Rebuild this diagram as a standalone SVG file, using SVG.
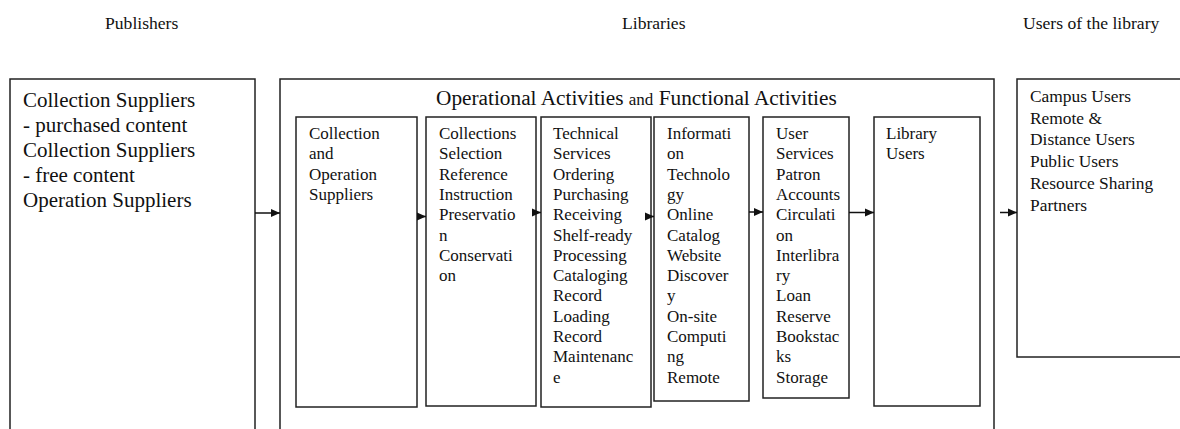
<svg xmlns="http://www.w3.org/2000/svg" width="1180" height="429" viewBox="0 0 1180 429">
<style>
.box{fill:#fff;stroke:#222;stroke-width:1.5}
.t{font-family:"Liberation Serif","Times New Roman","DejaVu Serif",serif;fill:#111}
.hd{font-size:17.6px}
.lg{font-size:21px}
.ti{font-size:21.3px}
.sm{font-size:17px}
.rt{font-size:17.4px}
.con{stroke:#111;stroke-width:1.5;fill:none;marker-end:url(#ah)}
</style>
<defs>
<marker id="ah" markerWidth="9" markerHeight="9" viewBox="0 0 9 9" refX="9" refY="4.5" orient="auto" markerUnits="userSpaceOnUse">
<path d="M0,0.5 L9,4.5 L0,8.5 Z" fill="#111"/>
</marker>
</defs>
<rect width="1180" height="429" fill="#fff"/>
<g id="headers" class="t hd" font-family="Liberation Serif, serif">
<text x="105" y="29">Publishers</text>
<text x="622" y="29">Libraries</text>
<text x="1023" y="29">Users of the library</text>
</g>
<g id="publishers">
<rect class="box" x="10" y="79" width="245" height="370"/>
<text class="t lg" font-family="Liberation Serif, serif">
<tspan x="23" y="107">Collection Suppliers</tspan>
<tspan x="23" y="132">- purchased content</tspan>
<tspan x="23" y="157">Collection Suppliers</tspan>
<tspan x="23" y="182">- free content</tspan>
<tspan x="23" y="207">Operation Suppliers</tspan>
</text>
</g>
<g id="libraries">
<rect class="box" x="280" y="79" width="714" height="370"/>
<text class="t ti" font-family="Liberation Serif, serif" x="436" y="105">Operational Activities <tspan class="sm">and</tspan> Functional Activities</text>
</g>
<g id="box1">
<rect class="box" x="296" y="117" width="121" height="290"/>
<text class="t sm" font-family="Liberation Serif, serif">
<tspan x="309" y="139">Collection</tspan>
<tspan x="309" y="159.3">and</tspan>
<tspan x="309" y="179.6">Operation</tspan>
<tspan x="309" y="199.9">Suppliers</tspan>
</text>
</g>
<g id="box2">
<rect class="box" x="426" y="117" width="110" height="289"/>
<text class="t sm" font-family="Liberation Serif, serif">
<tspan x="439" y="139">Collections</tspan>
<tspan x="439" y="159.3">Selection</tspan>
<tspan x="439" y="179.6">Reference</tspan>
<tspan x="439" y="199.9">Instruction</tspan>
<tspan x="439" y="220.2">Preservatio</tspan>
<tspan x="439" y="240.5">n</tspan>
<tspan x="439" y="260.8">Conservati</tspan>
<tspan x="439" y="281.1">on</tspan>
</text>
</g>
<g id="box3">
<rect class="box" x="541" y="117" width="110" height="290"/>
<text class="t sm" font-family="Liberation Serif, serif">
<tspan x="553" y="139">Technical</tspan>
<tspan x="553" y="159.3">Services</tspan>
<tspan x="553" y="179.6">Ordering</tspan>
<tspan x="553" y="199.9">Purchasing</tspan>
<tspan x="553" y="220.2">Receiving</tspan>
<tspan x="553" y="240.5">Shelf-ready</tspan>
<tspan x="553" y="260.8">Processing</tspan>
<tspan x="553" y="281.1">Cataloging</tspan>
<tspan x="553" y="301.4">Record</tspan>
<tspan x="553" y="321.7">Loading</tspan>
<tspan x="553" y="342">Record</tspan>
<tspan x="553" y="362.3">Maintenanc</tspan>
<tspan x="553" y="382.6">e</tspan>
</text>
</g>
<g id="box4">
<rect class="box" x="654" y="117" width="95" height="284"/>
<text class="t sm" font-family="Liberation Serif, serif">
<tspan x="667" y="139">Informati</tspan>
<tspan x="667" y="159.3">on</tspan>
<tspan x="667" y="179.6">Technolo</tspan>
<tspan x="667" y="199.9">gy</tspan>
<tspan x="667" y="220.2">Online</tspan>
<tspan x="667" y="240.5">Catalog</tspan>
<tspan x="667" y="260.8">Website</tspan>
<tspan x="667" y="281.1">Discover</tspan>
<tspan x="667" y="301.4">y</tspan>
<tspan x="667" y="321.7">On-site</tspan>
<tspan x="667" y="342">Computi</tspan>
<tspan x="667" y="362.3">ng</tspan>
<tspan x="667" y="382.6">Remote</tspan>
</text>
</g>
<g id="box5">
<rect class="box" x="763" y="117" width="86" height="281"/>
<text class="t sm" font-family="Liberation Serif, serif">
<tspan x="776" y="139">User</tspan>
<tspan x="776" y="159.3">Services</tspan>
<tspan x="776" y="179.6">Patron</tspan>
<tspan x="776" y="199.9">Accounts</tspan>
<tspan x="776" y="220.2">Circulati</tspan>
<tspan x="776" y="240.5">on</tspan>
<tspan x="776" y="260.8">Interlibra</tspan>
<tspan x="776" y="281.1">ry</tspan>
<tspan x="776" y="301.4">Loan</tspan>
<tspan x="776" y="321.7">Reserve</tspan>
<tspan x="776" y="342">Bookstac</tspan>
<tspan x="776" y="362.3">ks</tspan>
<tspan x="776" y="382.6">Storage</tspan>
</text>
</g>
<g id="box6">
<rect class="box" x="874" y="117" width="106" height="289"/>
<text class="t sm" font-family="Liberation Serif, serif">
<tspan x="886" y="139">Library</tspan>
<tspan x="886" y="159.3">Users</tspan>
</text>
</g>
<g id="users">
<rect class="box" x="1017" y="79" width="180" height="278"/>
<text class="t rt" font-family="Liberation Serif, serif">
<tspan x="1030" y="101.7">Campus Users</tspan>
<tspan x="1030" y="123.5">Remote &amp;</tspan>
<tspan x="1030" y="145.3">Distance Users</tspan>
<tspan x="1030" y="167.1">Public Users</tspan>
<tspan x="1030" y="188.9">Resource Sharing</tspan>
<tspan x="1030" y="210.7">Partners</tspan>
</text>
</g>
<g id="connectors">
<line class="con" x1="255" y1="213" x2="280" y2="213"/>
<line class="con" x1="417" y1="216.5" x2="426" y2="216.5"/>
<line class="con" x1="532" y1="212.5" x2="541" y2="212.5"/>
<line class="con" x1="645" y1="216.5" x2="654" y2="216.5"/>
<line class="con" x1="749" y1="212" x2="763" y2="212"/>
<line class="con" x1="849" y1="212.5" x2="874" y2="212.5"/>
<line class="con" x1="1000" y1="212.5" x2="1017" y2="212.5"/>
</g>
</svg>
